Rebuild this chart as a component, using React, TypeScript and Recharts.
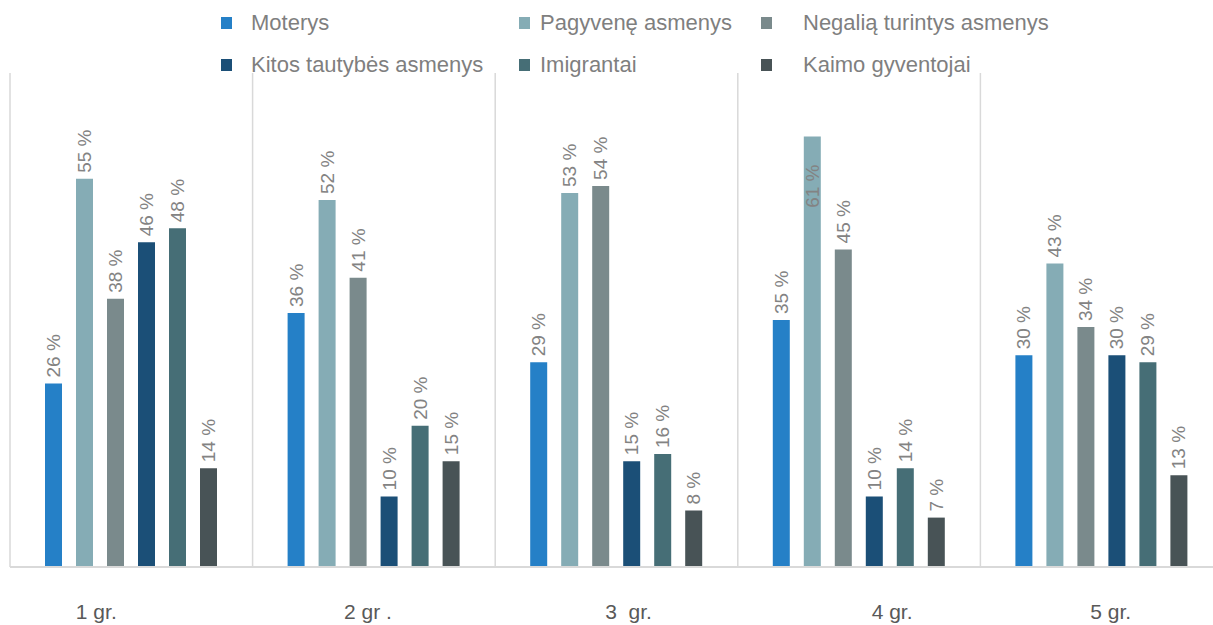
import { BarChart, Bar, XAxis, YAxis, ReferenceLine, LabelList } from "recharts";

const groups = ["1 gr.", "2 gr .", "3  gr.", "4 gr.", "5 gr."];
const moterys = [26, 36, 29, 35, 30];
const pagyvene = [55, 52, 53, 61, 43];
const negalia = [38, 41, 54, 45, 34];
const kitos = [46, 10, 15, 10, 30];
const imigrantai = [48, 20, 16, 14, 29];
const kaimo = [14, 15, 8, 7, 13];
const boundaries = [0, 1, 2, 3, 4, 5];

const series = [
  { key: "moterys", name: "Moterys", color: "#2580C7", values: moterys },
  { key: "pagyvene", name: "Pagyvenę asmenys", color: "#85ACB5", values: pagyvene },
  { key: "negalia", name: "Negalią turintys asmenys", color: "#7A8A8C", values: negalia },
  { key: "kitos", name: "Kitos tautybės asmenys", color: "#1B4F77", values: kitos },
  { key: "imigrantai", name: "Imigrantai", color: "#466E76", values: imigrantai },
  { key: "kaimo", name: "Kaimo gyventojai", color: "#485356", values: kaimo },
];

const chartData = groups.map((group, i) => {
  const row: Record<string, string | number> = { group, slot: i + 0.5 };
  series.forEach((s) => {
    row[s.key] = s.values[i];
  });
  return row;
});

// tick labels in the original sit a bit off the category centres
const tickShift = [-35, -6, 12, 33, 9];
const legendCols = [
  { marker: 221, text: 251 },
  { marker: 519, text: 540 },
  { marker: 761, text: 803 },
];
const legendRows = [23, 65];

const GroupTick = (props: any) => {
  const { x, y, payload, index } = props;
  return (
    <text
      x={Number(x) + (tickShift[index] || 0)}
      y={Number(y) + 44}
      textAnchor="middle"
      fill="#595959"
      fontSize={21}
      fontFamily="'Liberation Sans', Arial, sans-serif"
      style={{ whiteSpace: "pre" }}
    >
      {payload.value}
    </text>
  );
};

const ValueLabel = (props: any) => {
  const { x, y, width, value } = props;
  const cx = Number(x) + Number(width) / 2;
  // the tallest bar has its label pushed inside, as in the original
  const inside = Number(value) >= 60;
  const ty = inside ? Number(y) + 28 : Number(y) - 6;
  return (
    <text
      x={cx}
      y={ty}
      transform={`rotate(-90 ${cx} ${ty})`}
      textAnchor={inside ? "end" : "start"}
      dominantBaseline="central"
      fill="#838383"
      fontSize={19}
      fontFamily="'Liberation Sans Narrow', 'Liberation Sans', Arial, sans-serif"
    >
      {value} %
    </text>
  );
};

export default function App() {
  return (
    <div
      style={{
        position: "absolute",
        left: 0,
        top: 0,
        width: 1213,
        height: 625,
        overflow: "hidden",
        background: "#fff",
      }}
    >
      <BarChart
        width={1230}
        height={625}
        data={chartData}
        margin={{ top: 73, right: 7, bottom: 0, left: 10 }}
        barSize={17}
        barGap={14}
      >
        <XAxis
          dataKey="group"
          height={58}
          tickLine={false}
          axisLine={{ stroke: "#d9d9d9", strokeWidth: 2 }}
          tick={<GroupTick />}
          interval={0}
        />
        {/* helper axis: one unit per category, used for the band separators */}
        <XAxis
          xAxisId="grid"
          dataKey="slot"
          type="number"
          domain={[0, 5]}
          allowDataOverflow
          hide
        />
        <YAxis hide domain={[0, 70]} />
        {boundaries.map((b) => (
          <ReferenceLine
            key={b}
            x={b}
            xAxisId="grid"
            stroke="#d9d9d9"
            strokeWidth={1.5}
          />
        ))}
        {series.map((s) => (
          <Bar key={s.key} dataKey={s.key} name={s.name} fill={s.color} isAnimationActive={false}>
            <LabelList dataKey={s.key} content={<ValueLabel />} />
          </Bar>
        ))}
      </BarChart>
      {series.map((s, i) => {
        const col = legendCols[i % 3];
        const rowY = legendRows[Math.floor(i / 3)];
        return (
          <div key={s.key}>
            <div
              style={{
                position: "absolute",
                left: col.marker,
                top: rowY - 6,
                width: 11,
                height: 12,
                background: s.color,
              }}
            />
            <div
              style={{
                position: "absolute",
                left: col.text,
                top: rowY - 13,
                lineHeight: "26px",
                height: 26,
                fontSize: 22,
                color: "#7f7f7f",
                fontFamily: "'Liberation Sans', Arial, sans-serif",
                whiteSpace: "nowrap",
              }}
            >
              {s.name}
            </div>
          </div>
        );
      })}
    </div>
  );
}
